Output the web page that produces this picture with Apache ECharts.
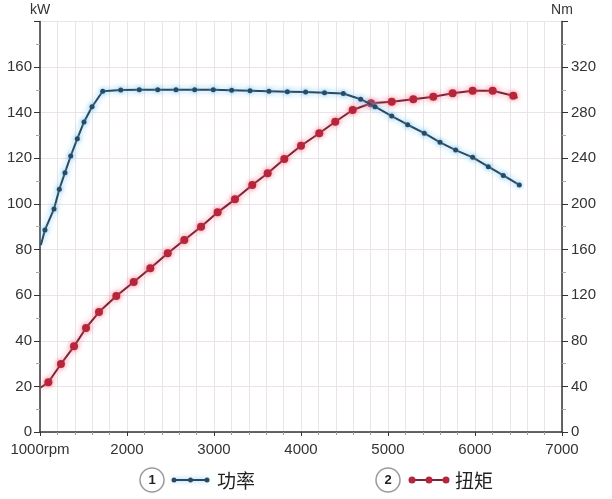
<!DOCTYPE html>
<html>
<head>
<meta charset="utf-8">
<script src="https://cdn.jsdelivr.net/npm/echarts@6/dist/echarts.min.js"></script>
<style>
html,body{margin:0;padding:0;background:#fff;}
#c{width:612px;height:499px;}
</style>
</head>
<body>
<div id="c"></div>
<script>
// x-axis tick labels
const xTickLabels = {1000:'1000rpm',2000:'2000',3000:'3000',4000:'4000',5000:'5000',6000:'6000',7000:'7000'};
// Power curve (kW) — rpm and values
const powerRpm = [1010,1057,1161,1222,1287,1353,1429,1506,1598,1721,1928,2141,2353,2563,2778,2992,3203,3414,3632,3843,4053,4270,4486,4686,4851,5043,5226,5417,5598,5778,5973,6153,6325,6509];
const powerKw  = [82,88.6,97.8,106.4,113.7,121.0,128.6,135.9,142.6,149.4,149.9,150,150,150,150,150,149.8,149.6,149.4,149.2,149.0,148.7,148.4,145.9,142.6,138.5,134.7,131.0,127.0,123.6,120.4,116.3,112.5,108.3];
const powerMarked = [false].concat(Array(33).fill(true));
// Torque curve (Nm)
const torqueRpm = [1010,1096,1241,1391,1529,1678,1877,2077,2268,2468,2659,2851,3042,3241,3440,3617,3808,4000,4210,4394,4594,4805,5043,5291,5521,5743,5973,6203,6440,6490];
const torqueNm  = [39,43.6,59.6,75.1,91.2,105.2,119.2,131.5,143.5,156.7,168.3,180,192.6,204,216.6,226.8,239.4,251,261.9,272,282.3,288.2,289.6,291.7,294,297,299.2,299.2,294.8,293];
const torqueMarked = [false].concat(Array(28).fill(true)).concat([false]);
// names
const seriesNames = ['功率','扭矩'];
const axisNames = ['kW','Nm'];

const powerData = powerRpm.map((r,i)=>({value:[r,powerKw[i]], symbol: powerMarked[i]?'circle':'none'}));
const torqueData = torqueRpm.map((r,i)=>({value:[r,torqueNm[i]], symbol: torqueMarked[i]?'circle':'none'}));

const txt = '#333';
const gridCol = '#ebe3e7';
const font = 'Liberation Sans, Arial, sans-serif';
const blue = '#2a4a63', red = '#7e2434', redDot = '#b5263b';

const chart = echarts.init(document.getElementById('c'));
chart.setOption({
  animation:false,
  backgroundColor:'#fff',
  grid:{left:40,right:50,top:21.4,bottom:67},
  xAxis:{
    type:'value',min:1000,max:7000,interval:1000,
    axisLine:{lineStyle:{color:'#333',width:1.5}},
    axisTick:{show:true,length:4,inside:false,lineStyle:{color:'#333'}},
    minorTick:{show:true,splitNumber:5,length:3,lineStyle:{color:'#999'}},
    splitLine:{show:true,lineStyle:{color:gridCol,width:1}},
    minorSplitLine:{show:true,lineStyle:{color:gridCol,width:1}},
    axisLabel:{color:txt,fontSize:15,fontFamily:font,margin:10,formatter:v=>xTickLabels[v]||''}
  },
  yAxis:[{
    type:'value',min:0,max:180,interval:20,position:'left',
    name:axisNames[0],nameLocation:'end',nameGap:4,
    nameTextStyle:{color:txt,fontSize:14,fontFamily:font,align:'center'},
    axisLine:{show:true,lineStyle:{color:'#333',width:1.5}},
    axisTick:{show:true,length:6,lineStyle:{color:'#333'}},
    minorTick:{show:true,splitNumber:2,length:4,lineStyle:{color:'#aaa'}},
    splitLine:{show:true,lineStyle:{color:gridCol,width:1}},
    axisLabel:{color:txt,fontSize:15,fontFamily:font,margin:8,formatter:v=>v>=180?'':String(v)}
  },{
    type:'value',min:0,max:360,interval:40,position:'right',
    name:axisNames[1],nameLocation:'end',nameGap:4,
    nameTextStyle:{color:txt,fontSize:14,fontFamily:font,align:'center'},
    axisLine:{show:true,lineStyle:{color:'#333',width:1.5}},
    axisTick:{show:true,length:6,lineStyle:{color:'#333'}},
    minorTick:{show:true,splitNumber:2,length:4,lineStyle:{color:'#aaa'}},
    splitLine:{show:false},
    axisLabel:{color:txt,fontSize:15,fontFamily:font,margin:9,formatter:v=>v>=360?'':String(v)}
  }],
  series:[{
    name:seriesNames[0],type:'line',yAxisIndex:0,data:powerData,
    symbolSize:5,
    lineStyle:{color:blue,width:2,shadowColor:'rgba(100,190,240,0.9)',shadowBlur:6},
    itemStyle:{color:blue,shadowColor:'rgba(100,190,240,0.9)',shadowBlur:4},
    z:3
  },{
    name:seriesNames[1],type:'line',yAxisIndex:1,data:torqueData,
    symbolSize:8,
    lineStyle:{color:red,width:2,shadowColor:'rgba(245,100,130,0.8)',shadowBlur:6},
    itemStyle:{color:redDot,shadowColor:'rgba(245,100,130,0.8)',shadowBlur:5},
    z:2
  }],
  graphic:[
    {type:'circle',shape:{cx:152,cy:480,r:12},style:{fill:'#fff',stroke:'#9a9a9a',lineWidth:1.5}},
    {type:'text',x:152,y:480,style:{text:'1',fill:'#222',font:'bold 13px '+font,align:'center',verticalAlign:'middle'}},
    {type:'line',shape:{x1:172,y1:480,x2:209,y2:480},style:{stroke:blue,lineWidth:2,shadowColor:'rgba(100,190,240,0.9)',shadowBlur:5}},
    {type:'circle',shape:{cx:174,cy:480,r:2.5},style:{fill:blue}},
    {type:'circle',shape:{cx:190.5,cy:480,r:2.5},style:{fill:blue}},
    {type:'circle',shape:{cx:207,cy:480,r:2.5},style:{fill:blue}},
    {type:'text',x:217,y:481,style:{text:seriesNames[0],fill:'#222',font:'19px "Noto Sans CJK SC"',verticalAlign:'middle'}},
    {type:'circle',shape:{cx:388,cy:480,r:12},style:{fill:'#fff',stroke:'#9a9a9a',lineWidth:1.5}},
    {type:'text',x:388,y:480,style:{text:'2',fill:'#222',font:'bold 13px '+font,align:'center',verticalAlign:'middle'}},
    {type:'line',shape:{x1:410,y1:480,x2:448,y2:480},style:{stroke:red,lineWidth:2}},
    {type:'circle',shape:{cx:412,cy:480,r:3.5},style:{fill:redDot}},
    {type:'circle',shape:{cx:429,cy:480,r:3.5},style:{fill:redDot}},
    {type:'circle',shape:{cx:446,cy:480,r:3.5},style:{fill:redDot}},
    {type:'text',x:455,y:481,style:{text:seriesNames[1],fill:'#222',font:'19px "Noto Sans CJK SC"',verticalAlign:'middle'}}
  ]
});
</script>
</body>
</html>
